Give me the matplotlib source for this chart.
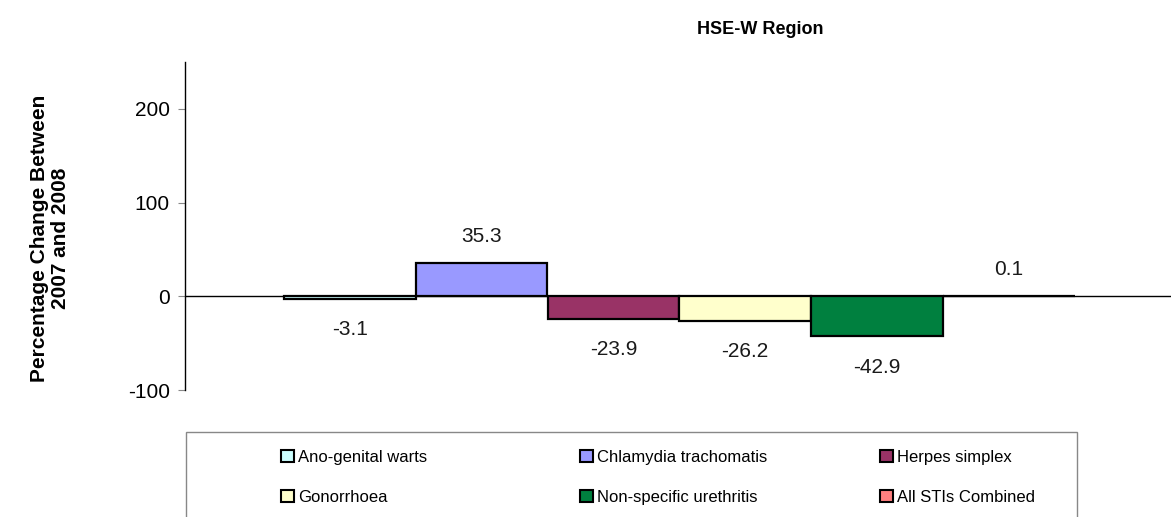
import matplotlib.pyplot as plt
from matplotlib.patches import Patch, Rectangle

# data
infections = ["Ano-genital warts", "Chlamydia trachomatis", "Herpes simplex",
              "Gonorrhoea", "Non-specific urethritis", "All STIs Combined"]
pct_change = [-3.1, 35.3, -23.9, -26.2, -42.9, 0.1]
colours = ["#CCFFFF", "#9999FF", "#993366", "#FFFFCC", "#00803F", "#FF8080"]
yticks = [-100, 0, 100, 200]

plt.rcParams["font.family"] = ["Liberation Sans Narrow", "Liberation Sans", "DejaVu Sans"]
plt.rcParams["axes.unicode_minus"] = False

fig = plt.figure(figsize=(11.71, 5.17), dpi=100)
ax = fig.add_axes([185 / 1171, 1 - 390 / 517, 1 - 185 / 1171, (390 - 62) / 517])

xs = list(range(len(pct_change)))
ax.bar(xs, pct_change, width=1.0, color=colours, edgecolor="black", linewidth=1.6, zorder=3)
ax.axhline(0, color="black", lw=1, zorder=2)

for x, v in zip(xs, pct_change):
    off = 19 if v >= 0 else -22
    ax.annotate(f"{v:.1f}", (x, v), xytext=(0, off), textcoords="offset points",
                ha="center", va="center", fontsize=15, color="#1a1a1a")

ax.set_xlim(-1.25, 6.23)
ax.set_ylim(-100, 250)
ax.set_yticks(yticks)
ax.set_xticks([])
ax.tick_params(axis="y", labelsize=15, length=5, color="#888888", pad=6)
for s in ["top", "right", "bottom"]:
    ax.spines[s].set_visible(False)
ax.spines["left"].set_linewidth(1)

fig.text(50 / 1171, 1 - 238 / 517, "Percentage Change Between\n2007 and 2008",
         rotation=90, ha="center", va="center", fontsize=15, fontweight="bold",
         linespacing=1.15)
fig.text(760 / 1171, 1 - 30 / 517, "HSE-W Region", ha="center", va="center",
         fontsize=13, fontweight="bold", family=["Liberation Sans", "DejaVu Sans"])

# legend box, running off the bottom edge
fig.patches.append(Rectangle((186 / 1171, -0.05), (1077 - 186) / 1171, 0.05 + 1 - 432 / 517,
                             transform=fig.transFigure, fill=False, edgecolor="#888888", lw=1))

handles = [Patch(facecolor=c, edgecolor="black", linewidth=1.5) for c in colours]
col_x = [281, 580, 880]
for j, cx in enumerate(col_x):
    idx = [j, j + 3]
    fig.legend([handles[i] for i in idx], [infections[i] for i in idx],
               loc="upper left", bbox_to_anchor=(cx / 1171, 1 - 450 / 517),
               frameon=False, fontsize=12, handlelength=0.75, handleheight=0.75,
               handletextpad=0.25, labelspacing=1.5, borderpad=0, borderaxespad=0)

fig.savefig("out.png", dpi=100)
